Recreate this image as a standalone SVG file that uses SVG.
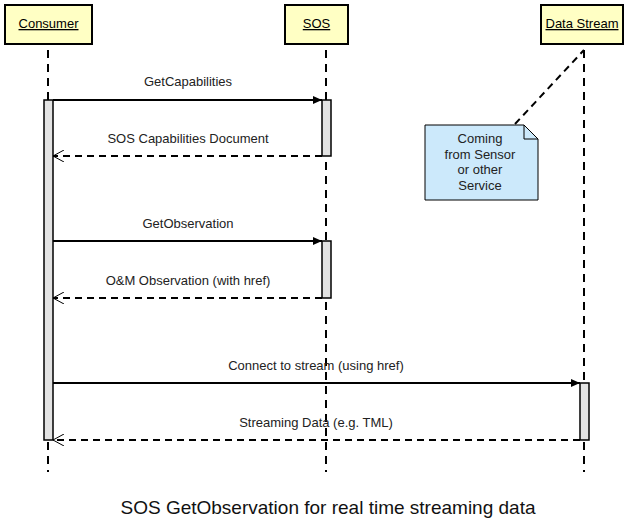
<svg xmlns="http://www.w3.org/2000/svg" width="632" height="523" viewBox="0 0 632 523">
<style>
.box{fill:#ffffc4;stroke:#000;stroke-width:2}
.hdr{font-family:"Liberation Sans",Arial,sans-serif;font-size:13px;text-anchor:middle;text-decoration:underline}
.life{stroke:#000;stroke-width:2;stroke-dasharray:8,6;fill:none}
.act{fill:#e3e3e3;stroke:#000;stroke-width:1.5}
.msg{stroke:#000;stroke-width:2;fill:none}
.ret{stroke:#000;stroke-width:2;stroke-dasharray:7,5;fill:none}
.lbl{font-family:"Liberation Sans",Arial,sans-serif;font-size:13px;text-anchor:middle;fill:#222}
.note{fill:#cce9fb;stroke:#000;stroke-width:1}
</style>
<defs>
<marker id="fill" markerWidth="10" markerHeight="8" refX="9" refY="4" orient="auto" markerUnits="userSpaceOnUse">
<path d="M0,0 L9,4 L0,8 z" fill="#000"/>
</marker>
<marker id="open" markerWidth="12" markerHeight="12" refX="11" refY="6" orient="auto" markerUnits="userSpaceOnUse">
<path d="M0,0 L11,6 L0,12" fill="none" stroke="#000" stroke-width="1"/>
</marker>
</defs>
<rect width="632" height="523" fill="#fff"/>
<g id="consumer">
<rect class="box" x="5" y="5" width="87" height="39"/>
<text class="hdr" x="48.5" y="28">Consumer</text>
<line class="life" x1="48" y1="50" x2="48" y2="472"/>
<rect class="act" x="44" y="100" width="9" height="340"/>
</g>
<g id="sos">
<rect class="box" x="285" y="5" width="63" height="39"/>
<text class="hdr" x="316.5" y="28">SOS</text>
<line class="life" x1="326" y1="50" x2="326" y2="472"/>
<rect class="act" x="322" y="100" width="9" height="56"/>
<rect class="act" x="322" y="241" width="9" height="57"/>
</g>
<g id="datastream">
<rect class="box" x="541" y="5" width="82" height="39"/>
<text class="hdr" x="582" y="28">Data Stream</text>
<line class="life" x1="584" y1="50" x2="584" y2="472"/>
<rect class="act" x="580" y="383" width="9" height="57"/>
</g>
<g id="note">
<path class="note" d="M425,125 L524,125 L538,139 L538,200 L425,200 z"/>
<path d="M524,125 L524,139 L538,139" fill="none" stroke="#000" stroke-width="1"/>
<text class="lbl" x="480" y="143">Coming</text>
<text class="lbl" x="480" y="159">from Sensor</text>
<text class="lbl" x="480" y="174">or other</text>
<text class="lbl" x="480" y="190">Service</text>
</g>
<g id="connectors">
<line class="ret" x1="515" y1="124" x2="584" y2="50"/>
<line class="msg" x1="53" y1="100" x2="322" y2="100" marker-end="url(#fill)"/>
<text class="lbl" x="188" y="86">GetCapabilities</text>
<line class="ret" x1="322" y1="156" x2="53" y2="156" marker-end="url(#open)"/>
<text class="lbl" x="188" y="143">SOS Capabilities Document</text>
<line class="msg" x1="53" y1="241" x2="322" y2="241" marker-end="url(#fill)"/>
<text class="lbl" x="188" y="228">GetObservation</text>
<line class="ret" x1="322" y1="298" x2="53" y2="298" marker-end="url(#open)"/>
<text class="lbl" x="188" y="285">O&amp;M Observation (with href)</text>
<line class="msg" x1="53" y1="383" x2="580" y2="383" marker-end="url(#fill)"/>
<text class="lbl" x="316" y="370">Connect to stream (using href)</text>
<line class="ret" x1="580" y1="440" x2="53" y2="440" marker-end="url(#open)"/>
<text class="lbl" x="316" y="427">Streaming Data (e.g. TML)</text>
</g>
<text x="328" y="514" font-family="'Liberation Sans',Arial,sans-serif" font-size="19" text-anchor="middle" fill="#111">SOS GetObservation for real time streaming data</text>
</svg>
